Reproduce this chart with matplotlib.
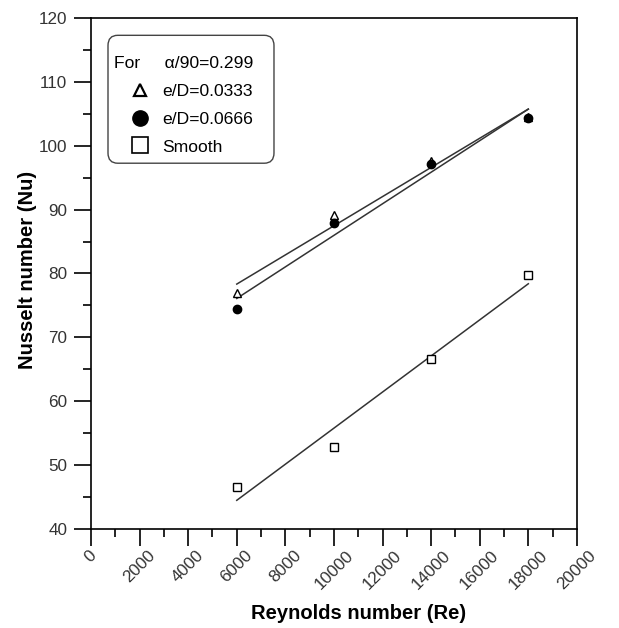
import matplotlib.pyplot as plt
import numpy as np
from matplotlib.lines import Line2D
from matplotlib.patches import FancyBboxPatch
from matplotlib.ticker import MultipleLocator

plt.rcParams["font.family"] = ["Liberation Sans", "DejaVu Sans"]

RE = [6000, 10000, 14000, 18000]
NU_E0333 = [76.9, 89.1, 97.7, 104.5]
NU_E0666 = [74.4, 87.9, 97.1, 104.3]
NU_SMOOTH = [46.6, 52.8, 66.6, 79.7]

LEGEND_TITLE = "For     \u03b1/90=0.299"
LABELS = ["e/D=0.0333", "e/D=0.0666", "Smooth"]


def fit_line(ax, x, y):
    # straight least-squares line drawn between the first and last Re
    x = np.asarray(x, dtype=float)
    k, b = np.polyfit(x, y, 1)
    ax.plot(x[[0, -1]], k * x[[0, -1]] + b, color="#333333", lw=1.1, zorder=2)


fig = plt.figure(figsize=(6.19, 6.28), dpi=100)
ax = fig.add_axes([0.147, 0.158, 0.785, 0.813])

ax.plot(RE, NU_E0333, ls="none", marker="^", ms=6, mfc="white", mec="black", mew=1.0, zorder=3)
ax.plot(RE, NU_E0666, ls="none", marker="o", ms=6, mfc="black", mec="black", zorder=3)
ax.plot(RE, NU_SMOOTH, ls="none", marker="s", ms=6, mfc="white", mec="black", mew=1.0, zorder=3)
for y in (NU_E0333, NU_E0666, NU_SMOOTH):
    fit_line(ax, RE, y)

ax.set_xlim(0, 20000)
ax.set_ylim(40, 120)
ax.xaxis.set_major_locator(MultipleLocator(2000))
ax.xaxis.set_minor_locator(MultipleLocator(1000))
ax.yaxis.set_major_locator(MultipleLocator(10))
ax.yaxis.set_minor_locator(MultipleLocator(5))
ax.tick_params(which="major", direction="out", length=12, width=1.2, labelsize=12.3,
               labelcolor="#333333")
ax.tick_params(which="minor", direction="out", length=5.5, width=1.2)
ax.tick_params(axis="y", which="major", pad=5)
ax.tick_params(axis="x", which="major", pad=1.5)
for lab in ax.get_xticklabels():
    lab.set_rotation(45)
    lab.set_ha("center")
    lab.set_va("top")
for s in ax.spines.values():
    s.set_linewidth(1.2)

ax.set_xlabel("Reynolds number (Re)", fontsize=14.5, fontweight="bold")
ax.set_ylabel("Nusselt number (Nu)", fontsize=14.5, fontweight="bold")
ax.xaxis.set_label_coords(0.551, -0.147)
ax.yaxis.set_label_coords(-0.111, 0.507)

# legend: entries without frame, rounded box drawn separately
box = FancyBboxPatch((0.035, 0.716), 0.3416, 0.2505, boxstyle="round,pad=0,rounding_size=0.02",
                     transform=ax.transAxes, fc="white", ec="#444444", lw=1.0, zorder=4)
ax.add_patch(box)

handles = [
    Line2D([], [], ls="none", marker="^", ms=9, mfc="white", mec="black", mew=1.6),
    Line2D([], [], ls="none", marker="o", ms=11, mfc="black", mec="black"),
    Line2D([], [], ls="none", marker="s", ms=11, mfc="white", mec="black", mew=1.2),
]
leg = ax.legend(handles, LABELS, title=LEGEND_TITLE, loc="upper left",
                bbox_to_anchor=(0.0473, 0.926), fontsize=12.6, title_fontsize=12.6,
                frameon=False, borderpad=0, borderaxespad=0,
                handlelength=3.0, handletextpad=-0.23, labelspacing=0.72,
                alignment="left")
leg.set_zorder(5)

fig.savefig("out.png", dpi=100)
